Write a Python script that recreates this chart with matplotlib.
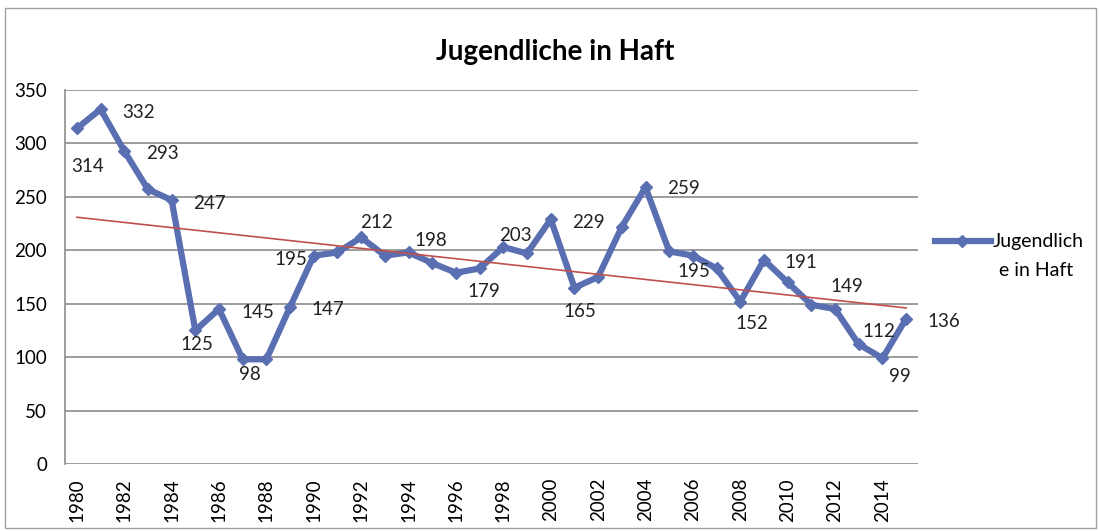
import numpy as np
import matplotlib
matplotlib.use("Agg")
import matplotlib.pyplot as plt
from matplotlib.patches import Rectangle
from matplotlib.lines import Line2D

plt.rcParams['font.family'] = ['Lato', 'DejaVu Sans']

# Daten
jahre = list(range(1980, 2016))
werte = [314, 332, 293, 257, 247, 125, 145, 98, 98, 147,
         195, 198, 212, 195, 198, 188, 179, 183, 203, 197,
         229, 165, 175, 222, 259, 199, 195, 183, 152, 191,
         170, 149, 145, 112, 99, 136]
# beschriftete Jahre
label_jahre = [1980, 1981, 1982, 1984, 1985, 1986, 1987, 1989, 1990, 1992,
               1994, 1996, 1998, 2000, 2001, 2004, 2006, 2008, 2009, 2011,
               2013, 2014, 2015]
titel = "Jugendliche in Haft"
legende = ["Jugendlich", "e in Haft"]

# Position der Beschriftungen (Pixel relativ zum Punkt)
offsets = {1980: (11, -38), 1981: (38, -3), 1982: (38, -3), 1984: (38, -3),
           1985: (2, -14), 1986: (39, -3), 1987: (7, -15), 1989: (38, -3),
           1990: (-23, -4), 1992: (15, 15), 1994: (22, 12), 1996: (28, -19),
           1998: (12, 12), 2000: (38, -3), 2001: (5, -24), 2004: (38, -1),
           2006: (1, -16), 2008: (12, -22), 2009: (37, -3), 2011: (35, 18),
           2013: (20, 13), 2014: (17, -18), 2015: (38, -3)}

blau = '#5A6EB2'
rot = '#C0504D'
W, H = 1099, 531

fig = plt.figure(figsize=(W/100, H/100), dpi=100)
ax = fig.add_axes([65/W, 1-464/H, (918-65)/W, (464-90)/H])

x = np.arange(len(jahre))
ax.plot(x, werte, color=blau, lw=4.5, marker='D', ms=6, zorder=3)

# lineare Trendlinie
k, d = np.polyfit(x, werte, 1)
ax.plot(x, k*x + d, color=rot, lw=1.2, zorder=4)

for j in label_jahre:
    i = jahre.index(j)
    ax.annotate(str(werte[i]), (x[i], werte[i]), xytext=offsets[j],
                textcoords='offset pixels', ha='center', va='center',
                fontsize=13.5, color='#222222', zorder=5)

ax.set_xlim(-0.5, len(jahre)-0.5)
ax.set_ylim(0, 350)
ax.set_yticks(range(0, 351, 50))
ax.set_xticks(x[::2])
ax.set_xticklabels([str(j) for j in jahre[::2]], rotation=90)
ax.tick_params(axis='y', length=0, pad=13, labelsize=13.5)
ax.tick_params(axis='x', length=0, pad=10, labelsize=13.5)
ax.grid(axis='y', color='#8C8C8C', lw=1.2)
ax.set_axisbelow(True)
for s in ['top', 'right', 'bottom']:
    ax.spines[s].set_visible(False)
ax.spines['left'].set_color('#8C8C8C')
ax.spines['left'].set_linewidth(1.2)

fig.text(555/W, 1-52/H, titel, ha='center', va='center',
         fontsize=20, fontweight='bold')

# Legende
fig.add_artist(Line2D([935/W, 962/W, 991/W], [1-241/H]*3, color=blau,
                      lw=4.5, marker='D', ms=6, markevery=[1],
                      transform=fig.transFigure))
fig.text(993/W, 1-241/H, legende[0], ha='left', va='center', fontsize=14)
fig.text(999/W, 1-270/H, legende[1], ha='left', va='center', fontsize=14)

fig.patches.append(Rectangle((5/W, 3/H), 1091/W, 520/H,
                             transform=fig.transFigure, fill=False,
                             edgecolor='#A0A0A0', lw=1))

fig.savefig('out.png', dpi=100)
